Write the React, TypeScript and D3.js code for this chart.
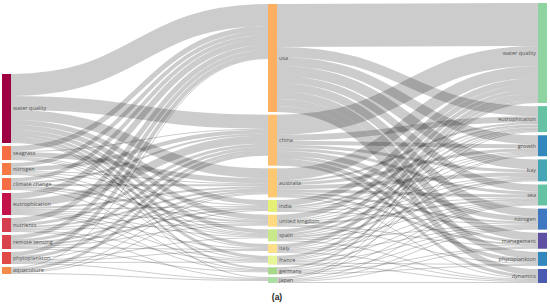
import React from 'react';
import * as d3 from 'd3';

const W = 550;
const H = 307;

const leftNodes = ['water quality', 'seagrass', 'nitrogen', 'climate change', 'eutrophication', 'nutrients', 'remote sensing', 'phytoplankton', 'aquaculture'];
const midNodes = ['usa', 'china', 'australia', 'india', 'united kingdom', 'spain', 'italy', 'france', 'germany', 'japan'];
const rightNodes = ['water quality', 'eutrophication', 'growth', 'bay', 'sea', 'nitrogen', 'management', 'phytoplankton', 'dynamics'];

const leftColors = ['#9e0142', '#f46d43', '#f57a45', '#f46d43', '#c2134b', '#d53e4f', '#d9434c', '#e04b47', '#f68a4a'];
const midColors = ['#fdae61', '#fdbf6f', '#fdc86f', '#e6f075', '#fed980', '#c9e88a', '#fee08b', '#e6f598', '#a6d98a', '#abdda4'];
const rightColors = ['#8fd3a0', '#66c2a5', '#3288bd', '#45a5b5', '#66c2a5', '#3d78c0', '#5e4fa2', '#3288bd', '#4a5bb0'];

// rows: left keywords, columns: countries
const leftToMid: number[][] = [
  [22, 14, 10, 5, 5, 4, 3, 3, 2, 1],
  [5, 1, 5, 0, 1, 1, 1, 0, 0, 0],
  [4, 4, 1, 1, 0, 1, 0, 1, 0, 0],
  [4, 2, 2, 0, 2, 1, 0, 0, 1, 0],
  [6, 8, 2, 1, 1, 1, 1, 1, 1, 0],
  [5, 3, 2, 1, 1, 0, 0, 1, 0, 1],
  [4, 3, 2, 2, 1, 0, 1, 0, 1, 0],
  [4, 3, 1, 0, 0, 1, 1, 1, 0, 1],
  [1, 3, 1, 1, 0, 0, 0, 0, 0, 1],
];

// rows: countries, columns: right keywords
const midToRight: number[][] = [
  [43, 10, 9, 10, 7, 8, 8, 7, 6],
  [20, 6, 4, 3, 3, 5, 3, 4, 3],
  [12, 2, 3, 4, 3, 2, 2, 0, 1],
  [6, 2, 1, 1, 1, 1, 0, 0, 0],
  [5, 1, 1, 1, 2, 0, 1, 1, 0],
  [4, 2, 1, 2, 1, 1, 0, 0, 1],
  [4, 1, 0, 1, 1, 1, 0, 0, 1],
  [3, 1, 1, 0, 1, 1, 0, 1, 1],
  [2, 0, 1, 0, 1, 1, 1, 1, 0],
  [1, 1, 0, 0, 1, 1, 1, 0, 1],
];

type Node = { name: string; color: string; value: number; x0: number; x1: number; y0: number; y1: number; col: number; outOff: number; inOff: number };
type Link = { s: Node; t: Node; value: number; sy: number; ty: number; w: number };

export default function App() {
  const nodeW = 9;
  const colX = d3.scalePoint<number>().domain([0, 1, 2]).range([2, 538]);
  const ky = d3.scaleLinear().domain([0, 1]).range([0, 1.0]);

  const leftVals = leftToMid.map((r) => d3.sum(r));
  const midIn = midNodes.map((_, j) => d3.sum(leftToMid, (r) => r[j]));
  const midOut = midToRight.map((r) => d3.sum(r));
  const midVals = midNodes.map((_, j) => Math.max(midIn[j], midOut[j]));
  const rightVals = rightNodes.map((_, k) => d3.sum(midToRight, (r) => r[k]));

  function column(names: string[], colors: string[], vals: number[], col: number, y0: number, y1: number | null, pad: number): Node[] {
    const total = ky(d3.sum(vals));
    const p = y1 === null ? pad : (y1 - y0 - total) / (names.length - 1);
    let y = y0;
    return names.map((name, i) => {
      const h = ky(vals[i]);
      const n: Node = { name, color: colors[i], value: vals[i], x0: colX(col)!, x1: colX(col)! + nodeW, y0: y, y1: y + h, col, outOff: 0, inOff: 0 };
      y += h + p;
      return n;
    });
  }

  const L = column(leftNodes, leftColors, leftVals, 0, 74, null, 3);
  const M = column(midNodes, midColors, midVals, 1, 4, 283, 0);
  const R = column(rightNodes, rightColors, rightVals, 2, 3, 283, 0);
  M.forEach((n) => { n.x0 = 268; n.x1 = 277; });

  const links: Link[] = [];
  leftToMid.forEach((row, i) => row.forEach((v, j) => { if (v > 0) links.push({ s: L[i], t: M[j], value: v, sy: 0, ty: 0, w: ky(v) }); }));
  midToRight.forEach((row, i) => row.forEach((v, k) => { if (v > 0) links.push({ s: M[i], t: R[k], value: v, sy: 0, ty: 0, w: ky(v) }); }));

  const allNodes = [...L, ...M, ...R];
  allNodes.forEach((n) => {
    const outs = links.filter((l) => l.s === n).sort((a, b) => a.t.y0 - b.t.y0);
    let y = n.y0;
    outs.forEach((l) => { l.sy = y + l.w / 2; y += l.w; });
    const ins = links.filter((l) => l.t === n).sort((a, b) => a.s.y0 - b.s.y0);
    y = n.y0;
    ins.forEach((l) => { l.ty = y + l.w / 2; y += l.w; });
  });

  const linkGen = d3.linkHorizontal<any, [number, number]>().source((d: any) => d.source).target((d: any) => d.target);

  const font = "'Open Sans', 'DejaVu Sans', sans-serif";

  return (
    <svg width={W} height={H} style={{ position: 'absolute', left: 0, top: 0, background: '#fff' }}>
      <g>
        {links.map((l, i) => (
          <path key={i} d={linkGen({ source: [l.s.x1, l.sy], target: [l.t.x0, l.ty] }) || ''} fill="none" stroke="#000" strokeOpacity={0.2} strokeWidth={Math.max(0.6, l.w)} />
        ))}
      </g>
      <g>
        {allNodes.map((n, i) => (
          <rect key={i} x={n.x0} y={n.y0} width={n.x1 - n.x0} height={n.y1 - n.y0} fill={n.color} />
        ))}
      </g>
      <g fontFamily={font} fontSize={5.5} fill="#555">
        {allNodes.map((n, i) => (
          <text key={i} x={n.col === 2 ? n.x0 - 2 : n.x1 + 2} y={(n.y0 + n.y1) / 2} dy="0.35em" textAnchor={n.col === 2 ? 'end' : 'start'}>{n.name}</text>
        ))}
      </g>
      <text x={277} y={300} textAnchor="middle" fontFamily="'Liberation Sans', Arial, sans-serif" fontWeight="bold" fontSize={8.5} fill="#222">(a)</text>
    </svg>
  );
}
